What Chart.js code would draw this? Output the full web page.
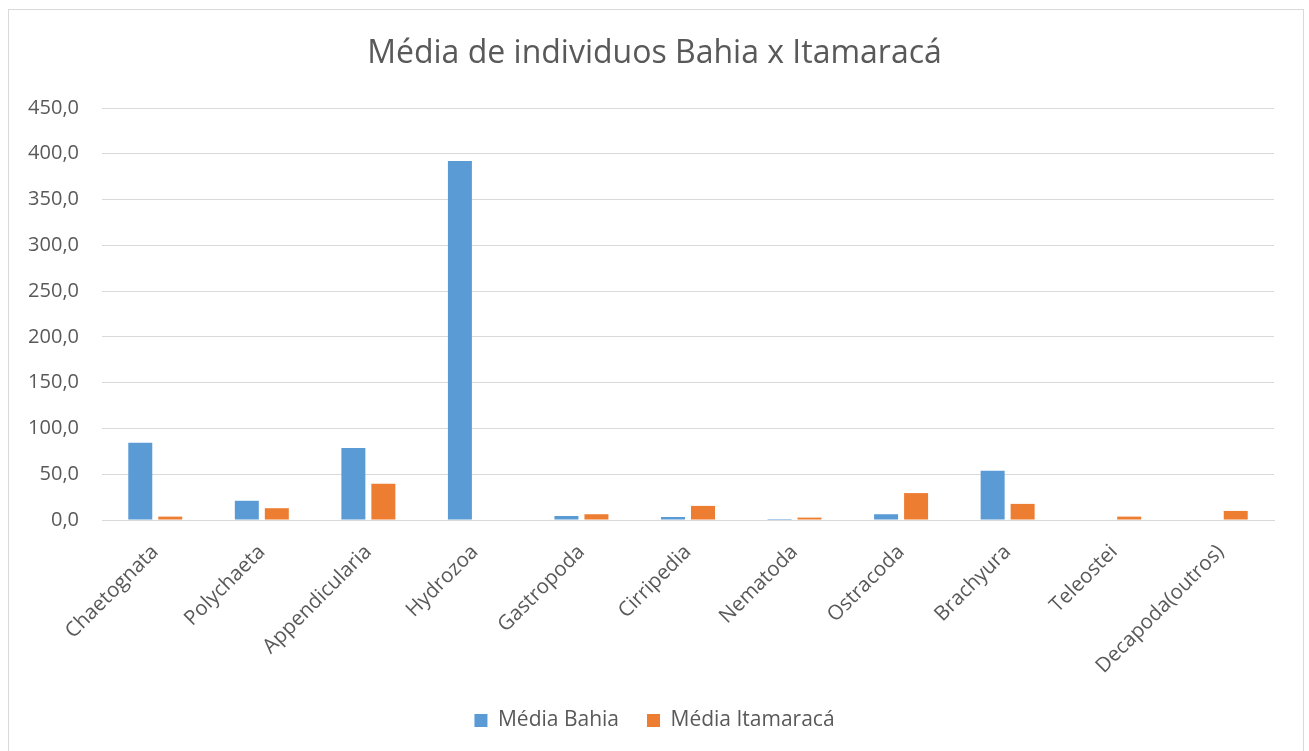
<!DOCTYPE html>
<html>
<head>
<meta charset="utf-8">
<script src="https://cdn.jsdelivr.net/npm/chart.js@4/dist/chart.umd.min.js"></script>
<style>
  html, body { margin: 0; padding: 0; background: #fff; }
  #wrap { position: relative; width: 1309px; height: 751px; }
  #frame { position: absolute; left: 8px; top: 9px; width: 1296px; height: 760px; border: 1px solid #d9d9d9; box-sizing: border-box; pointer-events: none; }
  canvas { position: absolute; left: 0; top: 0; }
</style>
</head>
<body>
<div id="wrap">
  <canvas id="c" width="1309" height="751"></canvas>
  <div id="frame"></div>
</div>
<script>
const chartTitle = "Média de individuos Bahia x Itamaracá";
const categories = ["Chaetognata", "Polychaeta", "Appendicularia", "Hydrozoa", "Gastropoda", "Cirripedia", "Nematoda", "Ostracoda", "Brachyura", "Teleostei", "Decapoda(outros)"];
const seriesNames = ["Média Bahia", "Média Itamaracá"];
const mediaBahia = [84.5, 21.0, 78.7, 392.2, 4.4, 3.3, 1.1, 6.3, 53.7, 0, 0];
const mediaItamaraca = [3.7, 12.9, 39.7, 0, 6.3, 15.4, 2.6, 29.4, 17.6, 3.7, 9.9];
const yMin = 0, yMax = 450, yStep = 50;

const textColor = "#595959";
const fontFamily = "'Open Sans', 'Noto Sans', sans-serif";

new Chart(document.getElementById("c"), {
  type: "bar",
  data: {
    labels: categories,
    datasets: [
      { label: seriesNames[0], data: mediaBahia, backgroundColor: "#5B9BD5", borderWidth: 0 },
      { label: seriesNames[1], data: mediaItamaraca, backgroundColor: "#ED7D31", borderWidth: 0 }
    ]
  },
  options: {
    responsive: false,
    animation: false,
    devicePixelRatio: 1,
    datasets: { bar: { categoryPercentage: 0.563, barPercentage: 0.8 } },
    layout: { padding: { left: 0, right: 0, top: 0, bottom: 10 } },
    plugins: {
      title: {
        display: true,
        text: chartTitle,
        color: textColor,
        font: { family: fontFamily, size: 32, weight: "normal", lineHeight: 1.2 },
        padding: { top: 35, bottom: 34.6 }
      },
      legend: {
        position: "bottom",
        labels: {
          color: textColor,
          font: { family: fontFamily, size: 21 },
          boxWidth: 13,
          boxHeight: 13,
          padding: 28
        }
      },
      tooltip: { enabled: false }
    },
    scales: {
      x: {
        grid: { display: false },
        border: { display: true, color: "#d9d9d9", width: 1 },
        ticks: {
          color: textColor,
          font: { family: fontFamily, size: 20.5 },
          minRotation: 45,
          maxRotation: 45,
          padding: 12
        },
        afterFit: (s) => { s.height = 162; }
      },
      y: {
        min: yMin,
        max: yMax,
        grid: { color: "#d9d9d9", lineWidth: 1, drawTicks: false },
        border: { display: false },
        ticks: {
          stepSize: yStep,
          color: textColor,
          font: { family: fontFamily, size: 20 },
          padding: 23,
          callback: (v) => Number(v).toFixed(1).replace(".", ",")
        },
        afterFit: (s) => { s.width = 102; }
      },
      yRight: {
        position: "right",
        min: yMin,
        max: yMax,
        grid: { display: false, drawTicks: false },
        border: { display: false },
        ticks: { display: false },
        afterFit: (s) => { s.width = 35; }
      }
    }
  }
});
</script>
</body>
</html>
